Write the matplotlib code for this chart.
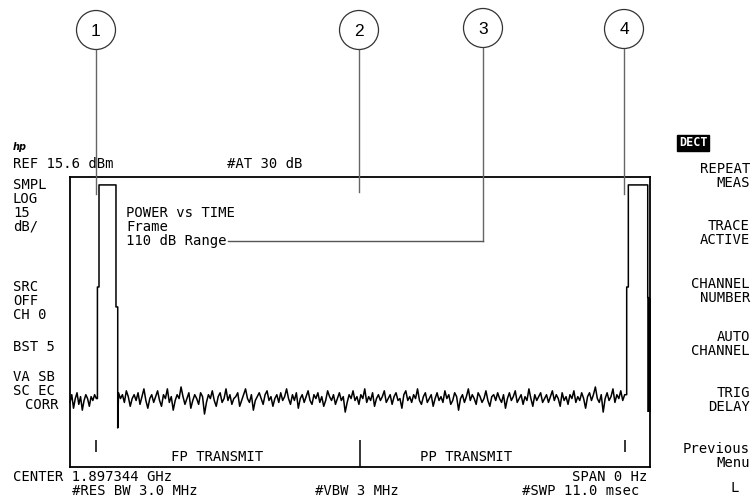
import matplotlib
matplotlib.use('Agg')
import matplotlib.pyplot as plt
import numpy as np
from matplotlib.patches import Circle

W, H = 751, 500

# ---------------- data ----------------
sweep_ms = 11.0
ref_dbm = 15.6
db_per_div = 15
n_div = 10

noise_pre = [-101, -97, -104, -99, -96, -102, -98, -105, -100, -97, -99, -103, -98, -100, -97, -99]
noise_main = [
    -96, -99, -97, -101, -95, -98, -103, -99, -97, -100, -96, -102, -98, -94, -100, -104, -99, -97, -101, -98,
    -95, -100, -103, -97, -99, -94, -101, -98, -105, -100, -97, -99, -93, -98, -102, -99, -96, -104, -100, -97,
    -99, -102, -96, -98, -107, -101, -97, -99, -95, -100, -103, -98, -96, -101, -99, -94, -100, -97, -102, -99,
    -98, -96, -103, -100, -97, -94, -99, -101, -97, -105, -100, -98, -96, -99, -102, -97, -95, -100, -98, -103,
    -99, -97, -101, -96, -100, -98, -94, -99, -102, -97, -100, -96, -104, -99, -97, -101, -98, -95, -100, -102,
    -97, -99, -96, -101, -98, -103, -100, -95, -98, -100, -97, -102, -99, -96, -100, -98, -106, -101, -97, -99,
    -95, -100, -98, -102, -97, -99, -94, -101, -98, -100, -96, -103, -99, -97, -100, -98, -95, -101, -99, -97,
    -102, -98, -96, -100, -99, -104, -97, -95, -100, -98, -101, -97, -99, -94, -100, -102, -98, -96, -101, -99,
    -97, -103, -99, -96, -100, -98, -101, -95, -99, -97, -102, -100, -96, -98, -105, -99, -97, -101, -98, -94,
    -100, -97, -99, -102, -96, -98, -101, -99, -95, -100, -103, -98, -97, -100, -96, -99, -101, -97, -104, -99,
    -96, -100, -98, -95, -101, -99, -97, -102, -98, -100, -94, -99, -103, -97, -100, -98, -96, -101, -99, -97,
    -101, -98, -95, -100, -97, -99, -103, -96, -100, -98, -102, -97, -99, -95, -101, -98, -100, -96, -99, -104,
    -98, -96, -100, -97, -93, -99, -101, -97, -106, -99, -96, -100, -98, -94, -101, -97, -99, -95, -100, -97,
]
pre_span_ms = [0.0, 0.50]
main_span_ms = [0.92, 10.52]

burst1_ms = [0.52, 0.55, 0.872, 0.905]
burst2_ms = [10.558, 10.589, 10.957, 10.978]
burst_top_dbm = 11.5
rise_step_dbm = -41.3
burst1_fall_step_dbm = -51.6
burst1_fall_floor_dbm = -114.2
burst2_fall_step_dbm = -46.8
burst2_fall_floor_dbm = -105.8

marker_ms = [0.49, 10.53]
marker_dbm = [-120.4, -126.6]
divider_ms = 5.5
divider_top_dbm = -120.4

left_labels = [("REF 15.6 dBm", 164), ("SMPL", 185), ("LOG", 199), ("15", 213), ("dB/", 227),
               ("SRC", 287), ("OFF", 301), ("CH 0", 315), ("BST 5", 347),
               ("VA SB", 377), ("SC EC", 391)]
menu_labels = [("REPEAT", 169), ("MEAS", 183), ("TRACE", 226), ("ACTIVE", 240),
               ("CHANNEL", 284), ("NUMBER", 298), ("AUTO", 337), ("CHANNEL", 351),
               ("TRIG", 393), ("DELAY", 407), ("Previous", 449), ("Menu", 463)]
callout_nums = ["1", "2", "3", "4"]
callout_x = [96, 359, 483, 624]
callout_y = [30, 30, 28, 29]
callout_end_y = [194, 192, 241, 194]

# ---------------- figure ----------------
fig = plt.figure(figsize=(W / 100, H / 100), dpi=100)
fig.patch.set_facecolor('white')

ax = fig.add_axes([70 / W, 1 - 467 / H, 580 / W, 290 / H])
ax.set_xlim(0, sweep_ms)
ax.set_ylim(ref_dbm - db_per_div * n_div, ref_dbm)
ax.set_xticks([])
ax.set_yticks([])
for s in ax.spines.values():
    s.set_linewidth(1.3)
    s.set_color('black')

x_pre = np.linspace(pre_span_ms[0], pre_span_ms[1], len(noise_pre))
x_main = np.linspace(main_span_ms[0], main_span_ms[1], len(noise_main))
b1, b2 = burst1_ms, burst2_ms
tx = [*x_pre, b1[0], b1[0], b1[1], b1[1], b1[2], b1[2], b1[3], b1[3],
      *x_main, b2[0], b2[0], b2[1], b2[1], b2[2], b2[2], b2[3]]
ty = [*noise_pre, noise_pre[-1], rise_step_dbm, rise_step_dbm, burst_top_dbm, burst_top_dbm,
      burst1_fall_step_dbm, burst1_fall_step_dbm, burst1_fall_floor_dbm,
      *noise_main, noise_main[-1], rise_step_dbm, rise_step_dbm, burst_top_dbm, burst_top_dbm,
      burst2_fall_step_dbm, burst2_fall_step_dbm]
ax.plot(tx, ty, color='black', lw=1.1, clip_on=False)
ax.plot([b2[3], b2[3]], [burst2_fall_step_dbm, burst2_fall_floor_dbm], color='black', lw=2.6,
        solid_capstyle='butt', clip_on=False)

ax.vlines(marker_ms, marker_dbm[1], marker_dbm[0], color='black', lw=1.1)
ax.vlines([divider_ms], ax.get_ylim()[0], divider_top_dbm, color='black', lw=1.1)

# overlay in pixel coordinates
ov = fig.add_axes([0, 0, 1, 1], zorder=5)
ov.set_xlim(0, W)
ov.set_ylim(H, 0)
ov.axis('off')
ov.patch.set_alpha(0)

mono = dict(family='DejaVu Sans Mono', fontsize=10, color='black', va='center')

for s, y in left_labels:
    ov.text(13, y, s, ha='left', **mono)
ov.text(25, 405, "CORR", ha='left', **mono)
ov.text(265, 164, "#AT 30 dB", ha='center', **mono)

ov.text(126, 213, "POWER vs TIME", ha='left', **mono)
ov.text(126, 227, "Frame", ha='left', **mono)
t3 = ov.text(126, 241, "110 dB Range", ha='left', **mono)

ov.text(217, 457, "FP TRANSMIT", ha='center', **mono)
ov.text(466, 457, "PP TRANSMIT", ha='center', **mono)

ov.text(13, 477, "CENTER 1.897344 GHz", ha='left', **mono)
ov.text(135, 491, "#RES BW 3.0 MHz", ha='center', **mono)
ov.text(357, 491, "#VBW 3 MHz", ha='center', **mono)
ov.text(647, 477, "SPAN 0 Hz", ha='right', **mono)
ov.text(581, 491, "#SWP 11.0 msec", ha='center', **mono)

for s, y in menu_labels:
    ov.text(750, y, s, ha='right', **mono)
ov.text(735, 488, "L", ha='center', **mono)
ov.text(693, 143, "DECT", ha='center', va='center', family='DejaVu Sans Mono', fontsize=8.5,
        color='white', fontweight='bold',
        bbox=dict(facecolor='black', edgecolor='black', boxstyle='square,pad=0.15'))
ov.text(13, 147, "hp", ha='left', va='center', family='DejaVu Sans', fontsize=7,
        style='italic', fontweight='bold', color='black')

# callouts
fig.canvas.draw()
bb = t3.get_window_extent()
text_end = bb.x1 + 1
r = 19.5
for num, cx, cy, ey in zip(callout_nums, callout_x, callout_y, callout_end_y):
    ov.add_patch(Circle((cx, cy), r, facecolor='white', edgecolor='#333333', lw=0.9))
    ov.text(cx, cy + 1, num, ha='center', va='center', family='Liberation Sans', fontsize=12.5,
            color='black')
    ov.plot([cx, cx], [cy + r, ey], color='#666666', lw=1.0)
ov.plot([text_end, callout_x[2]], [callout_end_y[2], callout_end_y[2]], color='#555555', lw=1.0)

fig.savefig('out.png', dpi=100, facecolor='white')
